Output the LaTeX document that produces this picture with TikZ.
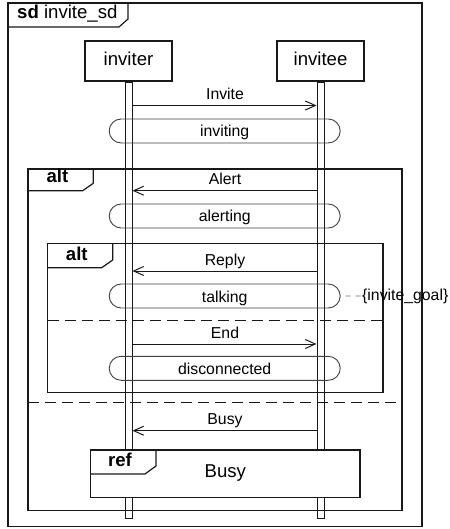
\documentclass[tikz,border=0pt]{standalone}
\usepackage{fontspec}
\setmainfont{Liberation Sans}
\usetikzlibrary{arrows.meta}
\begin{document}
\begin{tikzpicture}[x=1pt,y=-1pt,
  bigfont/.style={font=\fontsize{18.6}{20}\selectfont},
  smallfont/.style={font=\fontsize{15.8}{18}\selectfont},
  outerline/.style={draw=black!90, line width=1.5pt},
  frameline/.style={draw=black!90, line width=1.2pt},
  head/.style={draw=black!90, line width=1.2pt, minimum width=87pt,
    minimum height=40pt, inner sep=0pt, bigfont, text height=13pt, text depth=4pt},
  lifeline/.style={draw=black!90, line width=1pt, minimum width=7pt,
    minimum height=436pt, inner sep=0pt, anchor=north},
  state/.style={draw=black!75, line width=0.9pt, rounded corners=12pt,
    minimum width=231pt, minimum height=24pt, inner sep=0pt, smallfont,
    text height=13pt, text depth=1pt},
  msglbl/.style={smallfont, anchor=base, inner sep=0pt, yshift=6pt},
  msg/.style={draw=black!90, line width=1pt,
    -{Straight Barb[length=10pt,width=9pt,line width=1pt]}},
  tag/.style={anchor=base, inner sep=0pt, bigfont},
  sepline/.style={draw=black!90, line width=1.2pt, dash pattern=on 11pt off 6pt},
  note/.style={draw=black!60, line width=0.8pt, dash pattern=on 5pt off 5pt, dash phase=5pt},
]
\useasboundingbox (0,0) rectangle (449,529);

% diagram frame and its name tag
\draw[outerline] (8,3) rectangle (422,526.5);
\draw[frameline] (8,27) -- (119,27) -- (128,19) -- (128,3);
\node[tag, anchor=base west] (sdname) at (17,18.5) {\textbf{sd} invite\_sd};

% outer alt fragment
\draw[frameline] (28,169) rectangle (402,510.7);
\draw[frameline] (28,190.7) -- (82.7,190.7) -- (93.3,183.3) -- (93.3,169);
\node[tag] (altA) at (57.5,183) {\textbf{alt}};
\draw[sepline] (28,402.3) -- (402,402.3);

% inner alt fragment
\draw[frameline] (47.7,243.3) rectangle (383,392.7);
\draw[frameline] (47.7,267.7) -- (101.7,267.7) -- (112.7,260) -- (112.7,243.3);
\node[tag] (altB) at (76.8,260) {\textbf{alt}};
\draw[sepline] (47.7,320.7) -- (383,320.7);

% lifelines
\node[head] (inviter) at (128.5,61) {inviter};
\node[head] (invitee) at (320.5,61) {invitee};
\node[lifeline] (lineA) at (inviter.south) {};
\node[lifeline] (lineB) at (invitee.south) {};

% states
\node[state] (inviting) at (224.7,131) {inviting};
\node[state] (alerting) at (224.7,216) {alerting};
\node[state] (talking) at (224.7,296) {talking};
\node[state] (disconnected) at (224.7,368.3) {disconnected};

% messages
\coordinate (m1) at (225,105.5);
\coordinate (m2) at (225,190.7);
\coordinate (m3) at (225,271);
\coordinate (m4) at (225,344);
\coordinate (m5) at (225,430.7);
\node[msglbl] (lInvite) at (m1) {Invite};
\node[msglbl] (lAlert) at (m2) {Alert};
\node[msglbl] (lReply) at (m3) {Reply};
\node[msglbl] (lEnd) at (m4) {End};
\node[msglbl] (lBusy) at (m5) {Busy};
\draw[msg] (lineA.east |- m1) -- (lineB.west |- m1);
\draw[msg] (lineB.west |- m2) -- (lineA.east |- m2);
\draw[msg] (lineB.west |- m3) -- (lineA.east |- m3);
\draw[msg] (lineA.east |- m4) -- (lineB.west |- m4);
\draw[msg] (lineB.west |- m5) -- (lineA.east |- m5);

% goal annotation
\node[smallfont, anchor=base west, inner sep=0pt] (goal) at (362,300) {\{invite\_goal\}};
\draw[note] (talking.east) -- (goal.west);

% interaction use
\node[draw=black!90, line width=1.2pt, fill=white, minimum width=269.3pt,
  minimum height=47.7pt, inner sep=0pt, bigfont, text height=13pt, text depth=6pt]
  (refbox) at (225.35,473.85) {Busy};
\draw[frameline] (refbox.north west |- 0,474) -- (145,474) -- (156,466) -- (156,450);
\node[tag] (refname) at (120,466) {\textbf{ref}};
\end{tikzpicture}
\end{document}
